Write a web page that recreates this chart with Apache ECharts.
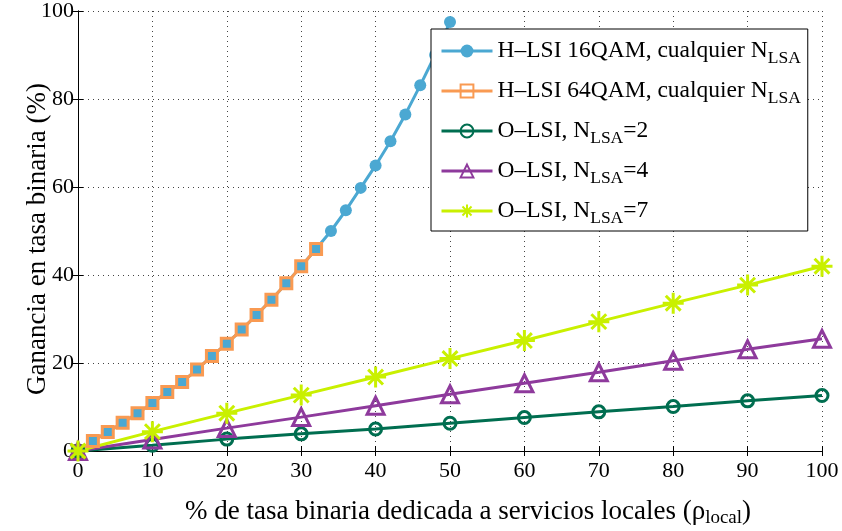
<html>
<head>
  <meta charset="utf-8" />
  <script src="https://cdn.jsdelivr.net/npm/echarts@6/dist/echarts.min.js"></script>
  <style>
    html, body { margin: 0; padding: 0; background: #fff; }
    #chart { width: 842px; height: 531px; }
  </style>
</head>
<body>
  <div id="chart"></div>
  <script>
    // data
    var xH16 = [0, 2, 4, 6, 8, 10, 12, 14, 16, 18, 20, 22, 24, 26, 28, 30, 32, 34, 36, 38, 40, 42, 44, 46, 48, 50];
    var yH16 = [0, 2.3, 4.3, 6.4, 8.6, 10.9, 13.4, 15.7, 18.5, 21.6, 24.4, 27.6, 30.9, 34.4, 38.1, 42, 45.9, 50, 54.7, 59.8, 64.9, 70.4, 76.5, 83.1, 90, 97.5];
    var xH64 = [0, 2, 4, 6, 8, 10, 12, 14, 16, 18, 20, 22, 24, 26, 28, 30, 32];
    var yH64 = [0, 2.3, 4.3, 6.4, 8.6, 10.9, 13.4, 15.7, 18.5, 21.6, 24.4, 27.6, 30.9, 34.4, 38.1, 42, 45.9];
    var xO = [0, 10, 20, 30, 40, 50, 60, 70, 80, 90, 100];
    var yN2 = [0, 1.3, 2.7, 3.9, 5.0, 6.3, 7.6, 8.9, 10.1, 11.4, 12.6];
    var yN4 = [0, 2.6, 5.2, 7.7, 10.3, 12.9, 15.4, 17.9, 20.5, 23.1, 25.5];
    var yN7 = [0, 4.4, 8.6, 12.7, 16.8, 21.0, 25.1, 29.4, 33.6, 37.7, 42.0];

    var names = ['H–LSI 16QAM, cualquier N_LSA', 'H–LSI 64QAM, cualquier N_LSA', 'O–LSI, N_LSA=2', 'O–LSI, N_LSA=4', 'O–LSI, N_LSA=7'];
    var colors = ['#4ba8d2', '#f99a52', '#006e50', '#8e3a9c', '#c9f000'];

    var zip = function (xs, ys) {
      return xs.map(function (x, i) { return [x, ys[i]]; });
    };

    var font = 'Liberation Serif';
    var star = 'path://M0,-10L0,10M-10,0L10,0M-7.07,-7.07L7.07,7.07M-7.07,7.07L7.07,-7.07';

    var chart = echarts.init(document.getElementById('chart'), null, { renderer: 'canvas' });

    var gridLine = { show: true, lineStyle: { color: '#444', type: [1, 4], width: 1 } };
    var tickIn = { show: true, inside: true, length: 5, lineStyle: { color: '#000' } };

    var option = {
      backgroundColor: '#fff',
      animation: false,
      grid: { left: 78, right: 20, top: 11, bottom: 80, containLabel: false, outerBoundsMode: 'none' },
      legend: {
        orient: 'vertical',
        left: 431,
        top: 29,
        padding: [6, 7, 4, 9],
        backgroundColor: '#fff',
        borderColor: '#000',
        borderWidth: 1,
        borderRadius: 0,
        itemWidth: 51,
        itemHeight: 16,
        itemGap: 8,
        lineStyle: { width: 3 },
        data: names,
        formatter: function (n) {
          var parts = n.split('N_LSA');
          var s = '{a|' + parts[0] + 'N}{s|LSA}';
          if (parts[1]) s += '{a|' + parts[1] + '}';
          return s;
        },
        textStyle: {
          rich: {
            a: { fontFamily: font, fontSize: 23.5, color: '#000', lineHeight: 30 },
            s: { fontFamily: font, fontSize: 17.5, color: '#000', lineHeight: 30, padding: [14, 0, 0, 0] }
          }
        }
      },
      xAxis: [{
        type: 'value', min: 0, max: 100, interval: 10,
        name: '{a|% de tasa binaria dedicada a servicios locales (ρ}{s|local}{a|)}',
        nameLocation: 'middle', nameGap: 44, nameMoveOverlap: false,
        nameTextStyle: {
          padding: [0, 0, 0, 36],
          rich: {
            a: { fontFamily: font, fontSize: 27, color: '#000' },
            s: { fontFamily: font, fontSize: 19, color: '#000', padding: [14, 0, 0, 0] }
          }
        },
        axisLine: { lineStyle: { color: '#000', width: 1 } },
        axisTick: tickIn,
        axisLabel: { fontFamily: font, fontSize: 22, color: '#000', margin: 9 },
        splitLine: gridLine
      }, {
        type: 'value', min: 0, max: 100, interval: 10, position: 'top',
        axisLine: { lineStyle: { color: '#000', width: 1 } },
        axisTick: tickIn, axisLabel: { show: false }, splitLine: { show: false }
      }],
      yAxis: [{
        type: 'value', min: 0, max: 100, interval: 20,
        name: 'Ganancia en tasa binaria (%)',
        nameLocation: 'middle', nameGap: 27, nameMoveOverlap: false,
        nameTextStyle: { fontFamily: font, fontSize: 27, color: '#000', padding: [0, 16, 0, 0] },
        axisLine: { show: true, lineStyle: { color: '#000', width: 1 } },
        axisTick: tickIn,
        axisLabel: { fontFamily: font, fontSize: 22, color: '#000', margin: 4 },
        splitLine: gridLine
      }, {
        type: 'value', min: 0, max: 100, interval: 20, position: 'right',
        axisLine: { show: true, lineStyle: { color: '#000', width: 1 } },
        axisTick: tickIn, axisLabel: { show: false }, splitLine: { show: false }
      }],
      series: [
        {
          name: names[0], type: 'line', data: zip(xH16, yH16),
          symbol: 'circle', symbolSize: 12,
          lineStyle: { color: colors[0], width: 3 },
          itemStyle: { color: colors[0] }
        },
        {
          name: names[1], type: 'line', data: zip(xH64, yH64),
          symbol: 'rect', symbolSize: 11,
          lineStyle: { color: colors[1], width: 3 },
          itemStyle: { color: 'rgba(0,0,0,0)', borderColor: colors[1], borderWidth: 3 }
        },
        {
          name: names[2], type: 'line', data: zip(xO, yN2),
          symbol: 'circle', symbolSize: 12,
          lineStyle: { color: colors[2], width: 3 },
          itemStyle: { color: 'rgba(0,0,0,0)', borderColor: colors[2], borderWidth: 3 }
        },
        {
          name: names[3], type: 'line', data: zip(xO, yN4),
          symbol: 'triangle', symbolSize: 17,
          lineStyle: { color: colors[3], width: 3 },
          itemStyle: { color: 'rgba(0,0,0,0)', borderColor: colors[3], borderWidth: 3 }
        },
        {
          name: names[4], type: 'line', data: zip(xO, yN7),
          symbol: star, symbolSize: 21,
          lineStyle: { color: colors[4], width: 3 },
          itemStyle: { color: colors[4], borderColor: colors[4], borderWidth: 3 }
        }
      ]
    };
    chart.setOption(option);
  </script>
</body>
</html>
